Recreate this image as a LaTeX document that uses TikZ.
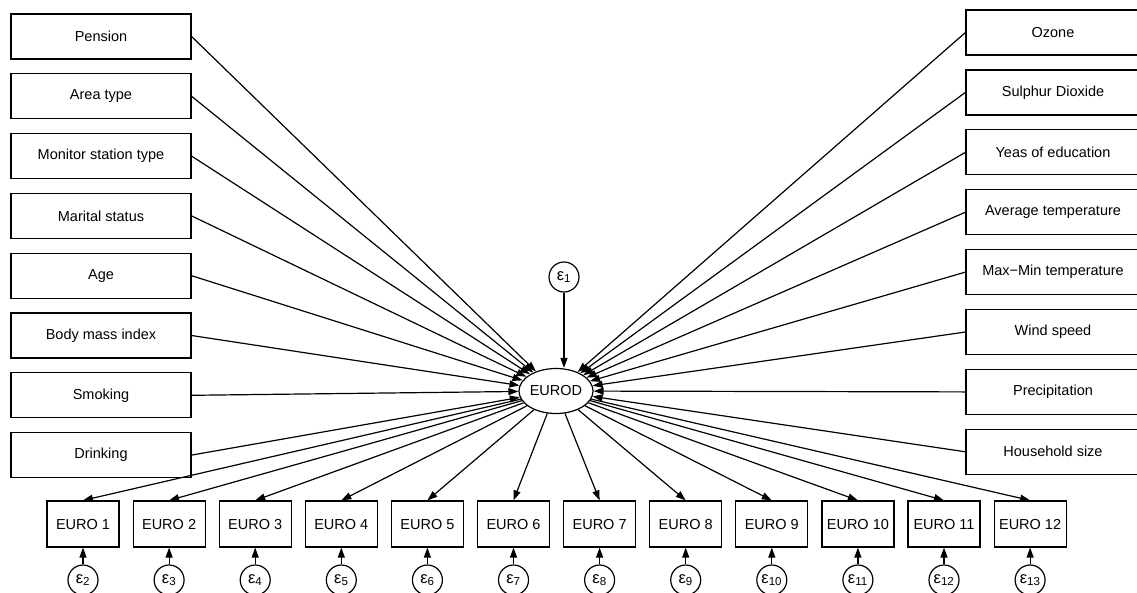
\documentclass[tikz,border=0pt]{standalone}
\usepackage{fontspec}
\setmainfont{Liberation Sans}
\usetikzlibrary{arrows.meta,shapes.geometric}

\tikzset{every picture/.style={line width=1.2pt}}

\begin{document}
\begin{tikzpicture}[x=1pt,y=1pt,yscale=-1,xscale=1,
  font=\fontsize{14.5}{16}\selectfont,
  leftbox/.style={draw,rectangle,minimum width=180pt,minimum height=45pt,inner sep=0pt},
  rightbox/.style={draw,rectangle,minimum width=174pt,minimum height=45pt,inner sep=0pt},
  eurobox/.style={draw,rectangle,minimum width=72pt,minimum height=46pt,inner sep=0pt},
  errnode/.style={draw,circle,minimum size=30pt,inner sep=0pt,font=\fontsize{16.5}{18}\selectfont},
  arr/.style={-{Triangle[length=10pt,width=7pt]}}]
\useasboundingbox (0,0) rectangle (1137,592);

% Latent node
\node [draw,ellipse,minimum width=70pt,minimum height=45pt,inner sep=0pt] (eurod) at (556,391) {EUROD};
\node [errnode] (e1) at (564,277) {ε\textsubscript{1}};
\draw [arr] (e1) -- (e1 |- eurod.north);

% Left side predictors
\node [leftbox] (pension) at (101,36.5) {Pension};
\node [leftbox] (area) at (101,96.3) {Area type};
\node [leftbox] (monitor) at (101,156.1) {Monitor station type};
\node [leftbox] (marital) at (101,215.9) {Marital status};
\node [leftbox] (age) at (101,275.7) {Age};
\node [leftbox] (bmi) at (101,335.5) {Body mass index};
\node [leftbox] (smoking) at (101,395.3) {Smoking};
\node [leftbox] (drinking) at (101,455.1) {Drinking};

% Right side predictors
\node [rightbox] (ozone) at (1053,32.5) {Ozone};
\node [rightbox] (sulphur) at (1053,92.4) {Sulphur Dioxide};
\node [rightbox] (education) at (1053,152.3) {Yeas of education};
\node [rightbox] (avgtemp) at (1053,212.2) {Average temperature};
\node [rightbox] (maxmin) at (1053,272.1) {Max−Min temperature};
\node [rightbox] (wind) at (1053,332) {Wind speed};
\node [rightbox] (precip) at (1053,391.9) {Precipitation};
\node [rightbox] (household) at (1053,451.8) {Household size};

\foreach \n in {pension,area,monitor,marital,age,bmi,smoking,drinking}
  \draw [arr] (\n.east) -- (eurod);
\foreach \n in {ozone,sulphur,education,avgtemp,maxmin,wind,precip,household}
  \draw [arr] (\n.west) -- (eurod);

% Indicators and their errors
\foreach \i [evaluate=\i as \x using 83+86.1*(\i-1), evaluate=\i as \k using int(\i+1)] in {1,...,12} {
  \node [eurobox] (euro\i) at (\x,524) {EURO \i};
  \node [errnode] (e\k) at (\x,580) {ε\textsubscript{\k}};
  \draw [arr] (eurod) -- (euro\i.north);
  \draw [arr] (e\k) -- (euro\i.south);
}

\end{tikzpicture}
\end{document}
